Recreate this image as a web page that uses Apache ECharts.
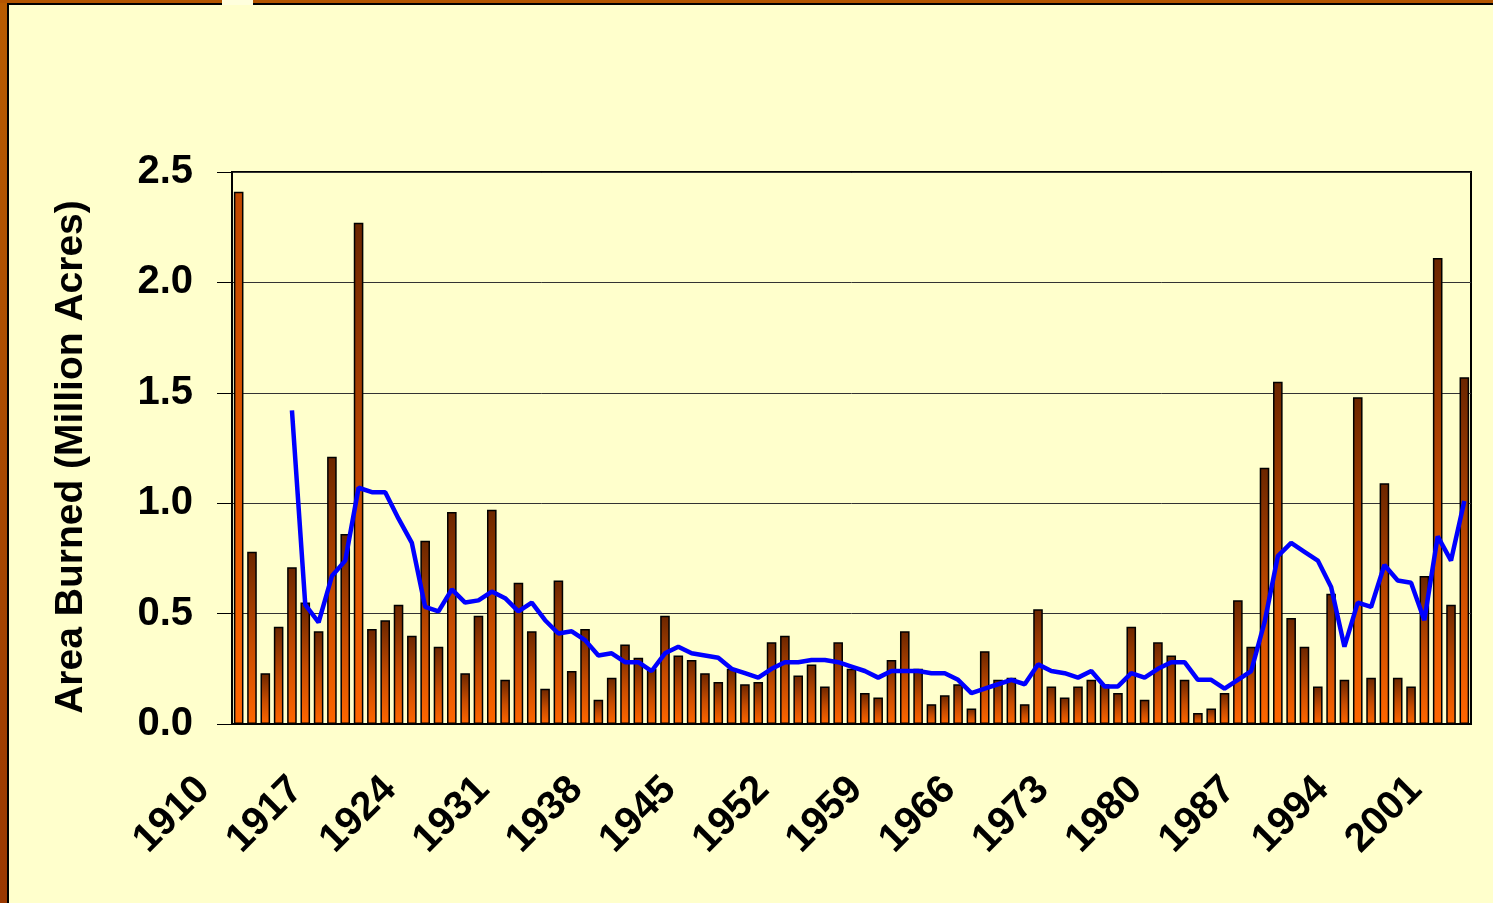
<!DOCTYPE html>
<html>
<head>
<meta charset="utf-8">
<script src="https://cdn.jsdelivr.net/npm/echarts@6/dist/echarts.min.js"></script>
<style>
  html, body { margin: 0; padding: 0; background: #FFFFCC; }
  #main { position: absolute; left: 0; top: 0; width: 1493px; height: 903px; }
  .frame { position: absolute; pointer-events: none; }
</style>
</head>
<body>
<div id="main"></div>
<div class="frame" style="left:0;top:0;width:7px;height:903px;background:linear-gradient(#B85C00,#9A3800);"></div>
<div class="frame" style="left:0;top:0;width:1493px;height:3px;background:#B35500;"></div>
<div class="frame" style="left:7px;top:3px;width:2px;height:900px;background:#000;"></div>
<div class="frame" style="left:7px;top:3px;width:1486px;height:2px;background:#000;"></div>
<div class="frame" style="left:222px;top:0;width:31px;height:5px;background:#FFFFDD;"></div>
<script>
// 年份
const years = [
  '1910','1911','1912','1913','1914','1915','1916','1917','1918','1919',
  '1920','1921','1922','1923','1924','1925','1926','1927','1928','1929',
  '1930','1931','1932','1933','1934','1935','1936','1937','1938','1939',
  '1940','1941','1942','1943','1944','1945','1946','1947','1948','1949',
  '1950','1951','1952','1953','1954','1955','1956','1957','1958','1959',
  '1960','1961','1962','1963','1964','1965','1966','1967','1968','1969',
  '1970','1971','1972','1973','1974','1975','1976','1977','1978','1979',
  '1980','1981','1982','1983','1984','1985','1986','1987','1988','1989',
  '1990','1991','1992','1993','1994','1995','1996','1997','1998','1999',
  '2000','2001','2002'
];

// 每年过火面积 (百万英亩), 1910 年柱子被截断
const areaBurned = [
  2.41, 0.78, 0.23, 0.44, 0.71, 0.55, 0.42, 1.21, 0.86, 2.27,
  0.43, 0.47, 0.54, 0.40, 0.83, 0.35, 0.96, 0.23, 0.49, 0.97,
  0.20, 0.64, 0.42, 0.16, 0.65, 0.24, 0.43, 0.11, 0.21, 0.36,
  0.30, 0.25, 0.49, 0.31, 0.29, 0.23, 0.19, 0.25, 0.18, 0.19,
  0.37, 0.40, 0.22, 0.27, 0.17, 0.37, 0.25, 0.14, 0.12, 0.29,
  0.42, 0.25, 0.09, 0.13, 0.18, 0.07, 0.33, 0.20, 0.21, 0.09,
  0.52, 0.17, 0.12, 0.17, 0.20, 0.18, 0.14, 0.44, 0.11, 0.37,
  0.31, 0.20, 0.05, 0.07, 0.14, 0.56, 0.35, 1.16, 1.55, 0.48,
  0.35, 0.17, 0.59, 0.20, 1.48, 0.21, 1.09, 0.21, 0.17, 0.67,
  2.11, 0.54, 1.57
];

// 5 年滑动平均 (蓝线)
const movingAvg = [
  null, null, null, null, 1.42, 0.54, 0.46, 0.67, 0.74, 1.07,
  1.05, 1.05, 0.93, 0.82, 0.53, 0.51, 0.61, 0.55, 0.56, 0.60,
  0.57, 0.51, 0.55, 0.47, 0.41, 0.42, 0.38, 0.31, 0.32, 0.28,
  0.28, 0.24, 0.32, 0.35, 0.32, 0.31, 0.30, 0.25, 0.23, 0.21,
  0.25, 0.28, 0.28, 0.29, 0.29, 0.28, 0.26, 0.24, 0.21, 0.24,
  0.24, 0.24, 0.23, 0.23, 0.20, 0.14, 0.16, 0.18, 0.20, 0.18,
  0.27, 0.24, 0.23, 0.21, 0.24, 0.17, 0.17, 0.23, 0.21, 0.25,
  0.28, 0.28, 0.20, 0.20, 0.16, 0.20, 0.24, 0.46, 0.76, 0.82,
  0.78, 0.74, 0.62, 0.35, 0.55, 0.53, 0.72, 0.65, 0.64, 0.47,
  0.85, 0.74, 1.01
];

const yTicks = [0, 0.5, 1.0, 1.5, 2.0, 2.5];

const barGradient = new echarts.graphic.LinearGradient(0, 0, 0, 1, [
  { offset: 0, color: '#6B2600' },
  { offset: 0.55, color: '#C84C00' },
  { offset: 1, color: '#FF6600' }
]);
// 被截断的柱子只显示下半段颜色
const clippedGradient = new echarts.graphic.LinearGradient(0, 0, 0, 1, [
  { offset: 0, color: '#C04800' },
  { offset: 1, color: '#FF6600' }
]);

const barData = areaBurned.map((v, i) => i === 0 ? { value: v, itemStyle: { color: clippedGradient } } : v);

const font = "'Liberation Sans', Arial, sans-serif";

const myChart = echarts.init(document.getElementById('main'));
const option = {
  animation: false,
  backgroundColor: 'transparent',
  grid: {
    left: 232, right: 22, top: 172, bottom: 179,
    show: true, borderColor: '#000', borderWidth: 2
  },
  xAxis: {
    type: 'category',
    data: years,
    boundaryGap: true,
    axisLine: { lineStyle: { color: '#000', width: 2 } },
    axisTick: { interval: 0, length: 12, lineStyle: { color: '#444', width: 1 } },
    axisLabel: {
      interval: 6,
      rotate: 45,
      margin: 24,
      padding: [0, 50, 0, 0],
      color: '#000',
      fontFamily: font,
      fontWeight: 'bold',
      fontSize: 40
    },
    splitLine: { show: false }
  },
  yAxis: {
    type: 'value',
    min: yTicks[0],
    max: yTicks[yTicks.length - 1],
    interval: 0.5,
    name: 'Area Burned (Million Acres)',
    nameLocation: 'middle',
    nameGap: 141,
    nameTextStyle: {
      color: '#000', fontFamily: font, fontWeight: 'bold', fontSize: 39,
      padding: [0, 18, 0, 0]
    },
    axisLine: { show: true, lineStyle: { color: '#000', width: 2 } },
    axisTick: { show: true, length: 15, lineStyle: { color: '#000', width: 1 } },
    axisLabel: {
      margin: 39,
      color: '#000',
      fontFamily: font,
      fontWeight: 'bold',
      fontSize: 40,
      formatter: v => v.toFixed(1)
    },
    splitLine: { lineStyle: { color: '#333', width: 1 } }
  },
  series: [
    {
      type: 'bar',
      data: barData,
      barCategoryGap: '28%',
      itemStyle: { color: barGradient, borderColor: '#000', borderWidth: 1.5 },
      z: 2
    },
    {
      type: 'line',
      data: movingAvg,
      showSymbol: false,
      symbol: 'none',
      lineStyle: { color: '#0000FF', width: 4.5 },
      z: 3
    }
  ]
};
myChart.setOption(option);
window.addEventListener('resize', () => { myChart.resize(); });
</script>
</body>
</html>
